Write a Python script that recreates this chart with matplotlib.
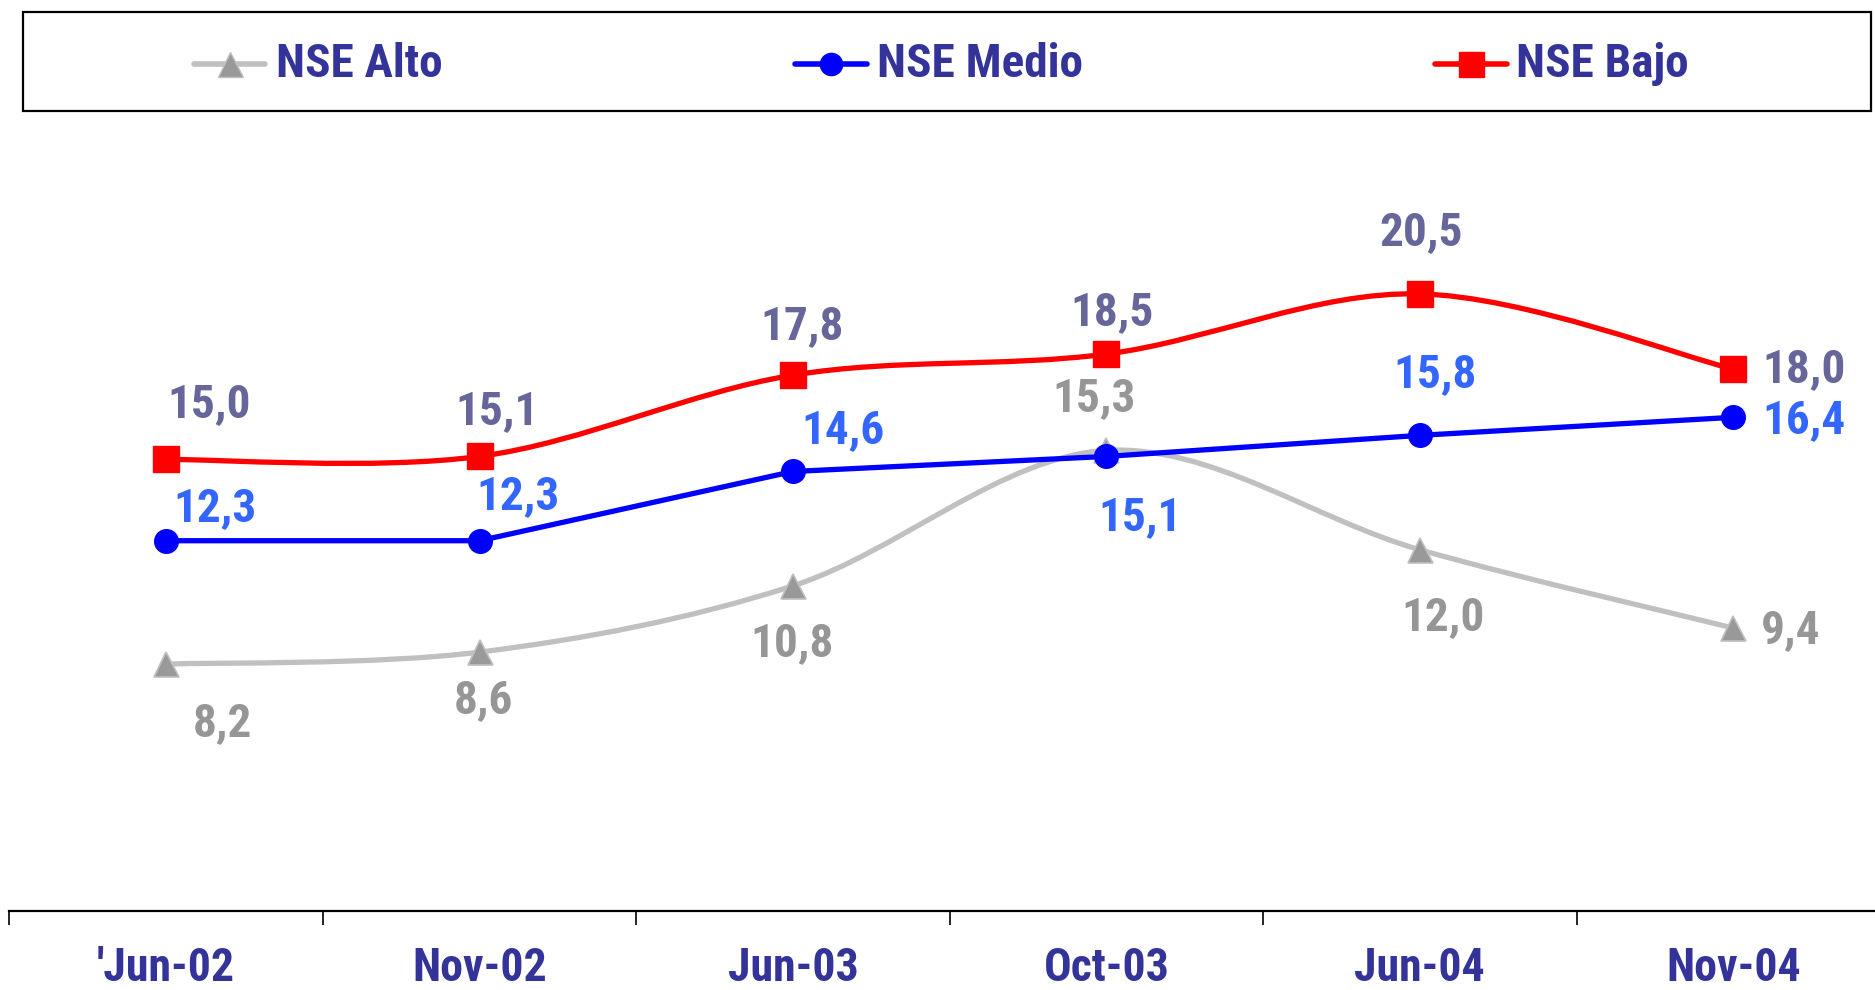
import matplotlib
matplotlib.use("Agg")
import matplotlib.pyplot as plt
from matplotlib.path import Path
from matplotlib.patches import PathPatch, Rectangle
from matplotlib import font_manager as fm
import numpy as np

# ---------------- data ----------------
categories = ["'Jun-02", "Nov-02", "Jun-03", "Oct-03", "Jun-04", "Nov-04"]
series_names = ["NSE Alto", "NSE Medio", "NSE Bajo"]
alto = [8.2, 8.6, 10.8, 15.3, 12.0, 9.4]
medio = [12.3, 12.3, 14.6, 15.1, 15.8, 16.4]
bajo = [15.0, 15.1, 17.8, 18.5, 20.5, 18.0]

# ---------------- font ----------------
names = {f.name for f in fm.fontManager.ttflist}
font = "Liberation Sans"
for cand in ["Liberation Sans Narrow", "Arial Narrow", "Roboto Condensed",
             "DejaVu Sans Condensed", "Open Sans Condensed"]:
    if cand in names:
        font = cand
        break
plt.rcParams['font.family'] = [font, 'DejaVu Sans']

W, H = 1875, 990
fig = plt.figure(figsize=(W / 100, H / 100), dpi=100)

ax = fig.add_axes([0.005, 0.0798, 1.003, 0.7602])
ax.set_xlim(-0.5, 5.5)
ax.set_ylim(0, 25)
x = np.arange(len(categories))


def smooth_path(xs, ys):
    pts = np.column_stack([xs, ys]).astype(float)
    n = len(pts)
    verts = [pts[0]]
    codes = [Path.MOVETO]
    for i in range(n - 1):
        p0 = pts[i - 1] if i > 0 else pts[i]
        p1 = pts[i]
        p2 = pts[i + 1]
        p3 = pts[i + 2] if i + 2 < n else pts[i + 1]
        c1 = p1 + (p2 - p0) / 6.0
        c2 = p2 - (p3 - p1) / 6.0
        verts += [c1, c2, p2]
        codes += [Path.CURVE4] * 3
    return Path(verts, codes)


RED = "#ff0000"
BLUE = "#0000ff"
GRAYL = "#c0c0c0"
GRAYM = "#999999"

# smoothed lines
ax.add_patch(PathPatch(smooth_path(x, alto), fill=False, edgecolor=GRAYL, lw=3.8, zorder=2))
ax.add_patch(PathPatch(smooth_path(x, bajo), fill=False, edgecolor=RED, lw=3.8, zorder=2))
ax.plot(x, medio, color=BLUE, lw=3.8, zorder=3)

ax.plot(x, alto, linestyle="none", marker="^", ms=18, color=GRAYM, mec=GRAYL, mew=1.2, zorder=4)
ax.plot(x, medio, linestyle="none", marker="o", ms=17, color=BLUE, zorder=5)
ax.plot(x, bajo, linestyle="none", marker="s", ms=19, color=RED, zorder=4)

# label offsets (pixels in shrunk preview -> full scale)
sc = 1.196
off_bajo = [(36, -46), (15, -38), (8, -41), (5, -35), (1, -52), (59, 0)]
off_medio = [(41, -27), (32, -37), (42, -35), (28, 51), (13, -51), (59, 2)]
off_alto = [(47, 49), (3, 40), (-1, 48), (-10, -44), (19, 56), (48, 2)]

fs_lab = 34


def labels(vals, offs, color):
    for xi, v, (dx, dy) in zip(x, vals, offs):
        ax.annotate(f"{v:.1f}".replace(".", ","), (xi, v),
                    xytext=(dx * sc, -dy * sc), textcoords="offset pixels",
                    ha="center", va="center", fontsize=fs_lab,
                    fontweight="bold", color=color, zorder=6)


labels(bajo, off_bajo, "#66669a")
labels(medio, off_medio, "#3366ff")
labels(alto, off_alto, "#969696")

# axes styling
for s in ["top", "right", "left"]:
    ax.spines[s].set_visible(False)
ax.spines["bottom"].set_linewidth(1.6)
ax.set_yticks([])
ax.set_xticks(np.arange(-0.5, 6.0, 1.0))
ax.set_xticklabels([])
ax.tick_params(axis="x", which="major", direction="out", length=10, width=1.2)
ax.set_xticks(x, minor=True)
ax.set_xticklabels(categories, minor=True)
ax.tick_params(axis="x", which="minor", length=0, pad=25,
               labelsize=33, labelcolor="#333399")
for t in ax.get_xticklabels(minor=True):
    t.set_fontweight("bold")

# legend box (figure pixel coordinates)
lax = fig.add_axes([0, 0, 1, 1], zorder=10)
lax.set_xlim(0, W)
lax.set_ylim(H, 0)
lax.axis("off")
lax.patch.set_alpha(0)
lax.add_patch(Rectangle((23, 12), 1848, 99, fill=False, edgecolor="black", lw=1.6))

leg = [
    (194, 265, 230, 276, GRAYL, GRAYM, "^", 18, series_names[0]),
    (795, 867, 831, 877, BLUE, BLUE, "o", 16, series_names[1]),
    (1435, 1507, 1471, 1516, RED, RED, "s", 18, series_names[2]),
]
ly = 64
for x0, x1, xm, xt, lc, mc, mk, ms, name in leg:
    lax.plot([x0, x1], [ly, ly], color=lc, lw=4, solid_capstyle="round")
    lax.plot([xm], [ly], marker=mk, ms=ms, color=mc,
             mec=GRAYL if mk == "^" else mc, linestyle="none")
    lax.text(xt, ly, name, ha="left", va="center", fontsize=34,
             fontweight="bold", color="#333399")

fig.savefig("out.png", dpi=100)
